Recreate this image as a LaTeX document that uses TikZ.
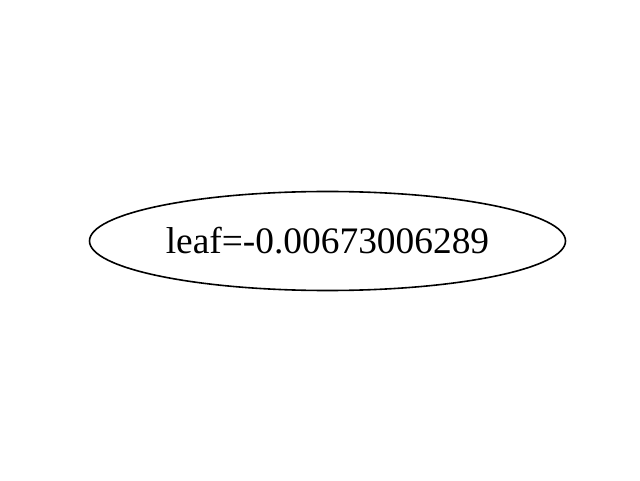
\documentclass[tikz,border=0pt]{standalone}
\usepackage{fontspec}
\setmainfont{Liberation Serif}
\usetikzlibrary{shapes.geometric}
\begin{document}
\begin{tikzpicture}[x=1pt,y=1pt,
  leafnode/.style={ellipse,draw,line width=1.6pt,minimum width=476pt,minimum height=99pt,inner sep=0pt,
    font=\fontsize{37.4}{44}\selectfont}]
\useasboundingbox (0,0) rectangle (640,480);
\node[leafnode] (leaf) at (327.5,239) {leaf=-0.00673006289};
\end{tikzpicture}
\end{document}
